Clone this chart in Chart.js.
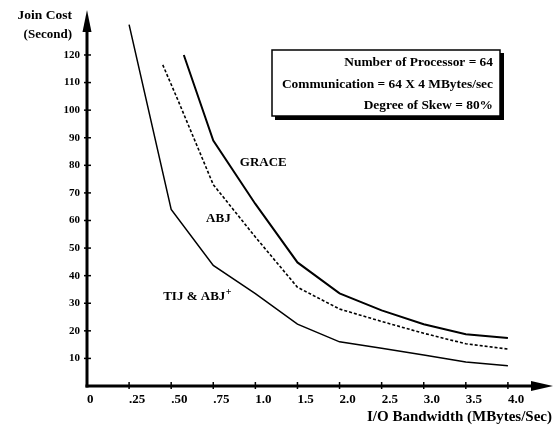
<!DOCTYPE html>
<html>
<head>
<meta charset="utf-8">
<script src="https://cdn.jsdelivr.net/npm/chart.js@4"></script>
<style>
  html, body { margin: 0; padding: 0; background: #fff; }
  canvas { display: block; }
</style>
</head>
<body>
<canvas id="c" width="556" height="428"></canvas>
<script>
// x positions are indices on the (evenly spaced) bandwidth tick axis
const xTickLabels = ['0', '.25', '.50', '.75', '1.0', '1.5', '2.0', '2.5', '3.0', '3.5', '4.0'];
const yTickValues = [10, 20, 30, 40, 50, 60, 70, 80, 90, 100, 110, 120];

const graceX = [2.3, 3, 4, 5, 6, 7, 8, 9, 10];
const graceY = [120, 89, 66, 44.8, 33.6, 27.4, 22.4, 18.8, 17.4];

const abjX = [1.8, 2.15, 3, 4, 5, 6, 7, 8, 9, 10];
const abjY = [116.4, 104, 73, 54, 35.8, 27.9, 23.4, 19.1, 15.3, 13.4];

const tijX = [1, 2, 3, 4, 5, 6, 7, 8, 9, 10];
const tijY = [131, 64, 43.7, 33.5, 22.4, 16, 13.7, 11.2, 8.7, 7.3];

const infoLines = ['Number of Processor = 64', 'Communication = 64 X 4 MBytes/sec', 'Degree of Skew = 80%'];

const toPts = (xs, ys) => xs.map((x, i) => ({ x, y: ys[i] }));
const SERIF = "'Liberation Serif', 'DejaVu Serif', serif";

const decor = {
  id: 'decor',
  afterDraw(chart) {
    const { ctx, scales: { x, y } } = chart;
    const x0 = x.getPixelForValue(0);
    const y0 = y.getPixelForValue(0);
    ctx.save();
    ctx.strokeStyle = '#000';
    ctx.fillStyle = '#000';
    ctx.lineCap = 'butt';

    // Y axis with arrow
    ctx.lineWidth = 3;
    ctx.beginPath(); ctx.moveTo(x0, y0 + 1.5); ctx.lineTo(x0, 30); ctx.stroke();
    ctx.beginPath(); ctx.moveTo(x0, 10); ctx.lineTo(x0 - 4.5, 32); ctx.lineTo(x0 + 4.5, 32); ctx.closePath(); ctx.fill();

    // X axis with arrow
    ctx.beginPath(); ctx.moveTo(x0 - 1.5, y0); ctx.lineTo(535, y0); ctx.stroke();
    ctx.beginPath(); ctx.moveTo(553, y0); ctx.lineTo(531, y0 - 5); ctx.lineTo(531, y0 + 5); ctx.closePath(); ctx.fill();

    // tick marks
    ctx.lineWidth = 1.5;
    yTickValues.forEach(v => {
      const py = y.getPixelForValue(v);
      ctx.beginPath(); ctx.moveTo(x0 - 3, py); ctx.lineTo(x0 + 4, py); ctx.stroke();
    });
    xTickLabels.forEach((_, i) => {
      if (i === 0) return;
      const px = x.getPixelForValue(i);
      ctx.beginPath(); ctx.moveTo(px, y0 - 4); ctx.lineTo(px, y0 + 3); ctx.stroke();
    });

    // Y axis title
    ctx.font = 'bold 13.5px ' + SERIF;
    ctx.textAlign = 'right';
    ctx.textBaseline = 'middle';
    ctx.fillText('Join Cost', 72, 16);
    ctx.font = 'bold 13px ' + SERIF;
    ctx.fillText('(Second)', 72, 35);

    // X axis title
    ctx.font = 'bold 15px ' + SERIF;
    ctx.textAlign = 'right';
    ctx.textBaseline = 'alphabetic';
    ctx.fillText('I/O Bandwidth (MBytes/Sec)', 552, 421);

    // info box with shadow
    ctx.textBaseline = 'middle';
    ctx.fillRect(275, 53, 229, 67);
    ctx.fillStyle = '#fff';
    ctx.fillRect(272, 50, 228, 66);
    ctx.lineWidth = 1.5;
    ctx.strokeRect(272, 50, 228, 66);
    ctx.fillStyle = '#000';
    ctx.font = 'bold 13.4px ' + SERIF;
    ctx.textAlign = 'right';
    const lineYs = [63, 85, 106];
    infoLines.forEach((t, i) => ctx.fillText(t, 493, lineYs[i]));

    // curve labels
    ctx.font = 'bold 13px ' + SERIF;
    ctx.textAlign = 'left';
    ctx.fillText('GRACE', x.getPixelForValue(3.63), y.getPixelForValue(80.9));
    ctx.fillText('ABJ', x.getPixelForValue(2.83), y.getPixelForValue(60.6));
    const tx = x.getPixelForValue(1.81), ty = y.getPixelForValue(32.5);
    ctx.fillText('TIJ & ABJ', tx, ty);
    const w = ctx.measureText('TIJ & ABJ').width;
    ctx.font = 'bold 10px ' + SERIF;
    ctx.fillText('+', tx + w + 0.5, ty - 4);
    ctx.restore();
  }
};

new Chart(document.getElementById('c'), {
  type: 'line',
  data: {
    datasets: [
      { label: 'GRACE', data: toPts(graceX, graceY), borderColor: '#000', borderWidth: 2, pointRadius: 0, tension: 0 },
      { label: 'ABJ', data: toPts(abjX, abjY), borderColor: '#000', borderWidth: 1.6, borderDash: [3, 2], pointRadius: 0, tension: 0 },
      { label: 'TIJ & ABJ+', data: toPts(tijX, tijY), borderColor: '#000', borderWidth: 1.5, pointRadius: 0, tension: 0 }
    ]
  },
  options: {
    responsive: false,
    devicePixelRatio: 1,
    animation: false,
    layout: { padding: { top: 12, right: 6, left: 0, bottom: 0 } },
    plugins: { legend: { display: false }, tooltip: { enabled: false } },
    scales: {
      x: {
        type: 'linear', min: 0, max: 11,
        afterFit(s) { s.height = 42; },
        grid: { display: false, drawTicks: false },
        border: { display: false },
        ticks: {
          stepSize: 1, autoSkip: false, maxRotation: 0, align: 'start', padding: 6,
          color: '#000', font: { family: SERIF, size: 13, weight: 'bold' },
          callback: v => (Number.isInteger(v) && xTickLabels[v] !== undefined) ? xTickLabels[v] : ''
        }
      },
      y: {
        type: 'linear', min: 0, max: 135,
        afterFit(s) { s.width = 87; },
        grid: { display: false, drawTicks: false },
        border: { display: false },
        ticks: {
          stepSize: 10, autoSkip: false, padding: 7,
          color: '#000', font: { family: SERIF, size: 11, weight: 'bold' },
          callback: v => yTickValues.includes(v) ? String(v) : ''
        }
      }
    }
  },
  plugins: [decor]
});
</script>
</body>
</html>
